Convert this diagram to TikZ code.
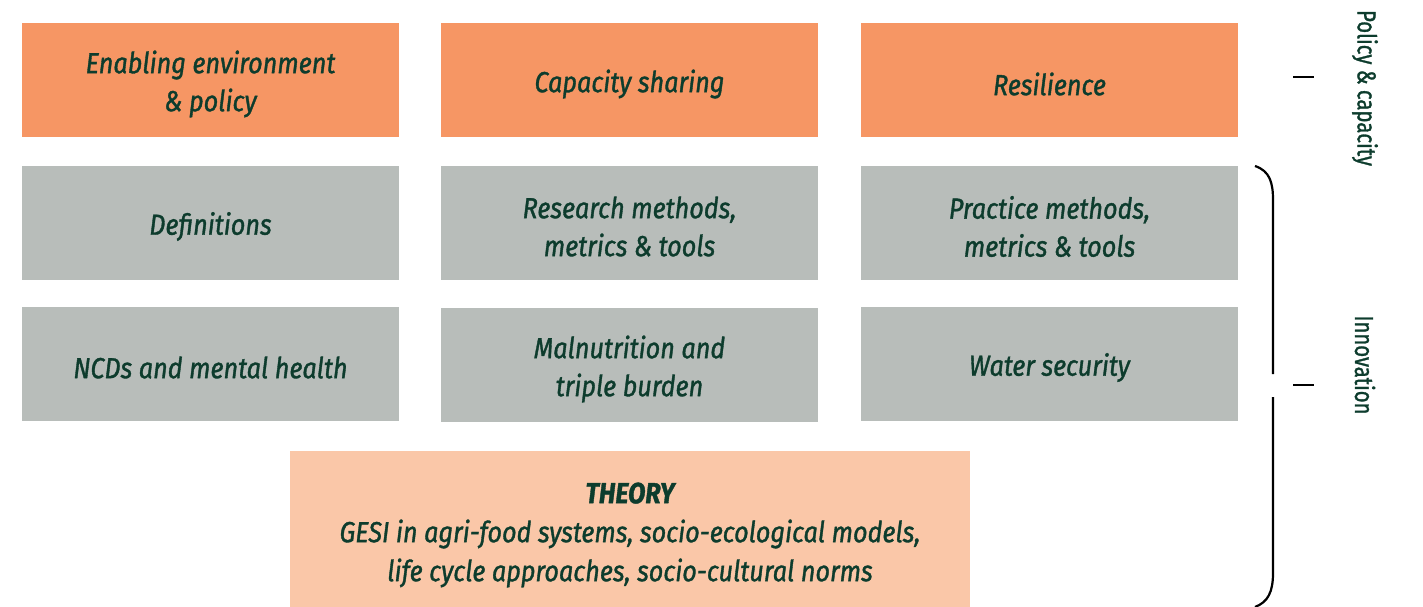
\documentclass[tikz,border=0pt]{standalone}
\usepackage{fontspec}
\setmainfont{Fira Sans}
\newfontfamily\labfont[FakeStretch=0.87,FakeBold=1.2]{Fira Sans}
\newfontfamily\sidefont[FakeStretch=0.78,FakeBold=1.2]{Fira Sans}
\definecolor{txt}{HTML}{0D3C2D}
\definecolor{orangebox}{HTML}{F69664}
\definecolor{greybox}{HTML}{B8BDBA}
\definecolor{peachbox}{HTML}{FAC7A8}
\begin{document}
\begin{tikzpicture}[x=1pt,y=-1pt,
  lab/.style={align=center,text=txt,inner sep=0pt,
    font=\labfont\itshape\fontsize{29}{38}\selectfont},
  box/.style={minimum width=377pt,minimum height=114pt,inner sep=0pt,
    label={[lab,yshift=-4pt]center:{#1}}},
  obox/.style={box={#1},fill=orangebox},
  gbox/.style={box={#1},fill=greybox},
  side/.style={text=txt,rotate=-90,font=\sidefont\fontsize{26}{30}\selectfont},
  brace/.style={line width=2.2pt,black},
  tick/.style={line width=2pt,black}]
\useasboundingbox (0,0) rectangle (1423,607);
\node[obox={Enabling environment\\\& policy}] (enab) at (210.5,80) {};
\node[obox={Capacity sharing}] (cap) at (629.5,80) {};
\node[obox={Resilience}] (res) at (1049.5,80) {};
\node[gbox={Definitions}] (def) at (210.5,222.5) {};
\node[gbox={Research methods,\\metrics \& tools}] (rm) at (629.5,222.5) {};
\node[gbox={Practice methods,\\metrics \& tools}] (pm) at (1049.5,222.5) {};
\node[gbox={NCDs and mental health}] (ncd) at (210.5,363.5) {};
\node[gbox={Malnutrition and\\triple burden}] (mal) at (629.5,365) {};
\node[gbox={Water security}] (ws) at (1049.5,363.5) {};
\node[minimum width=680pt,minimum height=156pt,fill=peachbox,inner sep=0pt,
  label={[lab,font=\labfont\itshape\fontsize{29}{39}\selectfont,yshift=-6pt]center:{\textbf{THEORY}\\GESI in agri-food systems, socio-ecological models,\\life cycle approaches, socio-cultural norms}}] (th) at (630,529) {};
\coordinate (btop) at (1255,166);
\coordinate (bbot) at (1255,607);
\draw[brace] (btop) .. controls (1270,171) and (1273,183) .. (1273,200) -- (1273,374);
\draw[brace] (1273,397) -- (1273,573) .. controls (1273,592) and (1268,602) .. (bbot);
\coordinate (t1a) at (1293,77); \coordinate (t1b) at (1314,77);
\coordinate (t2a) at (1293,385); \coordinate (t2b) at (1314,385);
\draw[tick] (t1a) -- (t1b);
\draw[tick] (t2a) -- (t2b);
\node[side] (pc) at (1365,88) {Policy \& capacity};
\node[side] (inn) at (1365,365) {Innovation};
\end{tikzpicture}
\end{document}
